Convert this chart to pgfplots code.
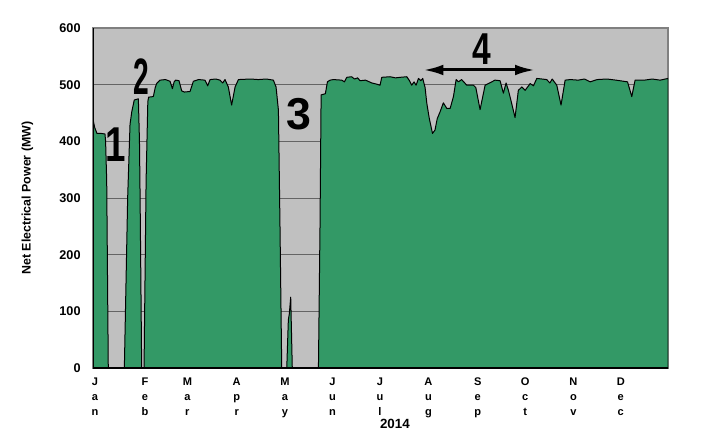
\documentclass[border=0pt]{standalone}
\usepackage{fontspec}
\setmainfont{Liberation Sans}
\usepackage{pgfplots}
\pgfplotsset{compat=1.18}
\usetikzlibrary{arrows.meta}

\definecolor{bggray}{RGB}{192,192,192}
\definecolor{netgreen}{RGB}{51,153,102}
\definecolor{gridgray}{RGB}{100,100,100}
\definecolor{framegray}{RGB}{128,128,128}

% net electrical power, day of year vs MW
\pgfplotstableread{
day   mw
0     439
1     425
2.5   414
5     414
7.6   413
8.0   400
8.7   330
9.7   0
19.9  0
22.0  300
23.5  430
24.6  452
26.2  473
28.8  475
29.5  400
29.9  300
30.9  0
32.4  0
33.7  330
34.8  470
35.3  478
38.3  479
39.5  495
40.4  502
42.5  508
46    509
48.9  506
50.4  493
51.5  505
52.5  508
54.6  507
56.3  489
58    487
61.6  488
63.7  506
67    509
71.1  508
72.8  498
74.3  509
78    510
80.6  508
82.3  503
83.8  509
85.9  496
88    464
90.2  496
92.3  509
100   510
105   509
110   510
114.5 508
116.2 496
117.7 455
118.7 250
119.8 0
123   0
124   85
124.6 95
125.5 125
126.5 0
143.1 0
144.1 249
144.8 482
147.5 484
148.8 505
150.5 508
152.6 509
157.9 508
159.6 505
161.1 513
164.2 514
166   510
168   512
169.5 507
173   508
177   503
180   501
182.2 499
183.3 513
188.6 514
192   512
195   513
199.2 514
200.9 507
202.3 499
203.8 505
205.1 499
206.6 511
208.1 507
209.3 511
210.8 495
211.9 467
213.5 440
215.5 414
217.1 420
218.5 440
220.3 452
222.4 468
224.6 458
226.7 458
228.8 479
230.5 509
232   505
234   509
237.3 499
241.5 499
243   495
245.7 456
248.9 499
253.1 505
255.2 508
258.4 507
260.5 485
262.2 503
263.7 490
265.5 470
267.9 442
270   490
272.2 496
274.3 490
277.5 502
279.6 498
281.7 511
285   510
288   509
290   503
291.5 510
294.4 499
297.1 464
299.7 508
303   509
308   508
312   510
315.6 505
320   509
326.2 510
332   508
339.3 505
342   479
344.1 508
350   508
355   510
360   508
365   511
}\powerdata

\begin{document}
\begin{tikzpicture}
\path[use as bounding box] (0,0) rectangle (537pt,327pt);
\begin{axis}[
    at={(69.75pt,51pt)}, anchor=south west,
    scale only axis,
    width=431.25pt, height=255pt,
    xmin=0, xmax=365, ymin=0, ymax=600,
    axis background/.style={fill=bggray},
    axis line style={draw=framegray, line width=0.8pt},
    major tick length=0pt,
    ytick={0,100,...,600},
    ymajorgrids,
    major grid style={draw=gridgray, line width=0.6pt},
    /pgf/number format/assume math mode=true,
    yticklabel style={font=\fontsize{9.5}{11}\selectfont\bfseries, xshift=-5.8pt},
    xtick={1.3,33,59.9,91.2,121.9,152,182.2,212.9,244.2,274.3,305,335},
    xticklabels={{J\\a\\n},{F\\e\\b},{M\\a\\r},{A\\p\\r},{M\\a\\y},{J\\u\\n},
                 {J\\u\\l},{A\\u\\g},{S\\e\\p},{O\\c\\t},{N\\o\\v},{D\\e\\c}},
    xticklabel style={align=center, font=\fontsize{8.3}{11.25}\selectfont\bfseries,
                      anchor=north, yshift=-4pt},
    xlabel={2014},
    xlabel style={at={(axis description cs:0.525,-0.163)}, anchor=center,
                  font=\fontsize{10}{12}\selectfont\bfseries},
    ylabel={Net Electrical Power (MW)},
    ylabel style={at={(axis description cs:-0.114,0.5)}, anchor=center,
                  font=\fontsize{9.3}{11}\selectfont\bfseries},
]
\addplot[fill=netgreen, draw=black, line width=0.75pt, line join=round]
    table[x=day, y=mw] {\powerdata} \closedcycle;

% left and bottom axis lines are black
\draw[black, line width=1.5pt] (rel axis cs:0,1) -- (rel axis cs:0,0) -- (rel axis cs:1,0);

% annotations
\node[inner sep=0, xscale=0.75, font=\fontsize{36.7}{36.7}\selectfont\bfseries]
    at (axis cs:14.6,393.5) {1};
\node[inner sep=0, xscale=0.55, font=\fontsize{38.4}{38.4}\selectfont\bfseries]
    at (axis cs:30.5,514) {2};
\node[inner sep=0, xscale=1.0, font=\fontsize{33.5}{33.5}\selectfont\bfseries]
    at (axis cs:130.8,448) {3};
\node[inner sep=0, xscale=0.75, font=\fontsize{33.5}{33.5}\selectfont\bfseries]
    at (axis cs:246.8,563) {4};
\draw[line width=2.25pt, {Latex[length=15pt,width=8pt]}-{Latex[length=15pt,width=8pt]}]
    (axis cs:209.7,525.9) -- (axis cs:280.6,525.9);
\end{axis}
\end{tikzpicture}
\end{document}
